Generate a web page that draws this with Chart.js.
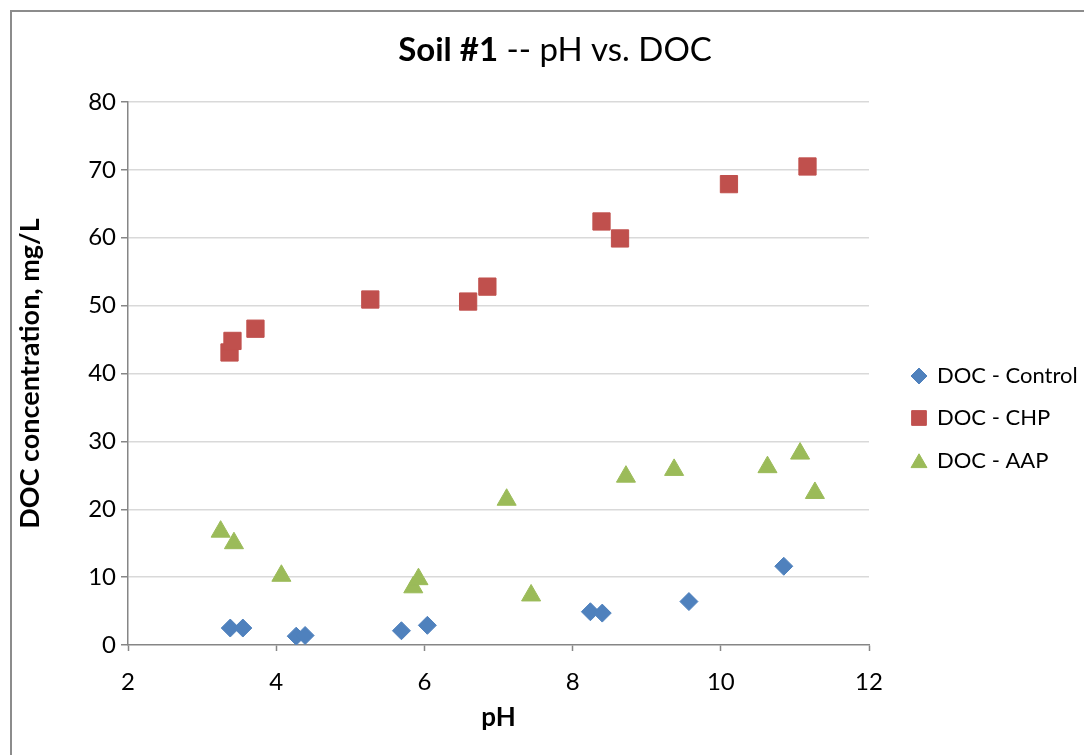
<!DOCTYPE html>
<html>
<head>
<meta charset="utf-8">
<script src="https://cdn.jsdelivr.net/npm/chart.js@4/dist/chart.umd.min.js"></script>
<style>
  html, body { margin: 0; padding: 0; background: #fff; overflow: hidden; }
  #wrap { position: relative; width: 1084px; height: 755px; }
  #frame { position: absolute; left: 10px; top: 10px; width: 1200px; height: 900px;
           border: 2px solid #8c8c8c; box-sizing: border-box; }
  canvas { position: absolute; left: 0; top: 0; }
</style>
</head>
<body>
<div id="wrap">
  <div id="frame"></div>
  <canvas id="chart" width="1084" height="755"></canvas>
</div>
<script>
// Soil #1: measured pH and dissolved organic carbon (mg/L) per treatment
const phControl  = [3.38, 3.55, 4.27, 4.39, 5.69, 6.04, 8.24, 8.40, 9.57, 10.85];
const docControl = [2.5, 2.5, 1.3, 1.4, 2.1, 2.9, 4.9, 4.7, 6.4, 11.6];

const phCHP  = [3.37, 3.41, 3.72, 5.27, 6.59, 6.85, 8.39, 8.64, 10.11, 11.17];
const docCHP = [43.1, 44.8, 46.6, 50.9, 50.6, 52.8, 62.4, 59.9, 67.9, 70.5];

const phAAP  = [3.25, 3.43, 4.07, 5.85, 5.92, 7.11, 7.44, 8.72, 9.37, 10.63, 11.07, 11.27];
const docAAP = [16.7, 15.0, 10.2, 8.5, 9.7, 21.4, 7.3, 24.8, 25.8, 26.2, 28.2, 22.4];

const seriesNames = ['DOC - Control', 'DOC - CHP', 'DOC - AAP'];
const titleBold = 'Soil #1';
const titleRest = ' -- pH vs. DOC';
const xTitle = 'pH';
const yTitle = 'DOC concentration, mg/L';

const FONT = 'Lato, "Open Sans", sans-serif';
const AXIS = '#868686';
const GRID = '#D9D9D9';

function pairs(xs, ys) { return xs.map((x, i) => ({ x: x, y: ys[i] })); }

const datasets = [
  { label: seriesNames[0], data: pairs(phControl, docControl), pointStyle: 'rectRot',
    pointRadius: 9, backgroundColor: '#4F81BD', borderColor: '#4F81BD', legendRadius: 8 },
  { label: seriesNames[1], data: pairs(phCHP, docCHP), pointStyle: 'rect',
    pointRadius: 12.2, backgroundColor: '#C0504D', borderColor: '#C0504D', legendRadius: 10.4 },
  { label: seriesNames[2], data: pairs(phAAP, docAAP), pointStyle: 'triangle',
    pointRadius: 11, backgroundColor: '#9BBB59', borderColor: '#9BBB59', legendRadius: 9.2 }
].map(d => Object.assign(d, { showLine: false, pointBorderWidth: 1, pointHoverRadius: d.pointRadius }));

// Title with a bold lead-in followed by regular text
const mixedTitle = {
  id: 'mixedTitle',
  afterDraw(chart) {
    const ctx = chart.ctx;
    ctx.save();
    ctx.fillStyle = '#000';
    ctx.textBaseline = 'middle';
    const boldFont = 'bold 33px ' + FONT;
    const normFont = '33px ' + FONT;
    ctx.font = boldFont;
    const w1 = ctx.measureText(titleBold).width;
    ctx.font = normFont;
    const w2 = ctx.measureText(titleRest).width;
    const cx = 555, cy = 50;
    const x0 = cx - (w1 + w2) / 2;
    ctx.textAlign = 'left';
    ctx.font = boldFont;
    ctx.fillText(titleBold, x0, cy);
    ctx.font = normFont;
    ctx.fillText(titleRest, x0 + w1, cy);
    ctx.restore();
  }
};

// Legend listed to the right of the plot area
const sideLegend = {
  id: 'sideLegend',
  afterDraw(chart) {
    const ctx = chart.ctx;
    const rows = [376, 418, 461];
    ctx.save();
    chart.data.datasets.forEach((ds, i) => {
      const y = rows[i];
      ctx.fillStyle = ds.backgroundColor;
      ctx.strokeStyle = ds.borderColor;
      ctx.lineWidth = 1;
      Chart.helpers.drawPoint(ctx, {
        pointStyle: ds.pointStyle, radius: ds.legendRadius, rotation: 0, borderWidth: 1
      }, 919, ds.pointStyle === 'triangle' ? y + 2 : y);
      ctx.fillStyle = '#000';
      ctx.font = '22px ' + FONT;
      ctx.textAlign = 'left';
      ctx.textBaseline = 'middle';
      ctx.fillText(ds.label, 937, y);
    });
    ctx.restore();
  }
};

new Chart(document.getElementById('chart'), {
  type: 'scatter',
  data: { datasets: datasets },
  plugins: [mixedTitle, sideLegend],
  options: {
    responsive: false,
    animation: false,
    layout: { padding: { left: 0, top: 102, right: 215, bottom: 0 } },
    plugins: { legend: { display: false }, title: { display: false }, tooltip: { enabled: false } },
    scales: {
      x: {
        type: 'linear', min: 2, max: 12,
        afterFit(scale) { scale.height = 110; },
        ticks: { stepSize: 2, color: '#000', font: { family: FONT, size: 24 }, padding: 17 },
        grid: { drawOnChartArea: false, drawTicks: true, tickLength: 6, tickColor: AXIS, tickWidth: 1.5 },
        border: { color: AXIS, width: 1.5 },
        title: { display: true, text: xTitle, color: '#000',
                 font: { family: FONT, size: 26, weight: 'bold' }, padding: { top: 0, bottom: 22 } }
      },
      y: {
        type: 'linear', min: 0, max: 80,
        afterFit(scale) { scale.width = 128; },
        ticks: { stepSize: 10, color: '#000', font: { family: FONT, size: 24 }, padding: 5 },
        grid: {
          color: ctx => (ctx.tick && ctx.tick.value === 0) ? 'rgba(0,0,0,0)' : GRID,
          lineWidth: 1.5, drawTicks: true, tickLength: 7, tickColor: AXIS, tickWidth: 1.5
        },
        border: { color: AXIS, width: 1.5 },
        title: { display: true, text: yTitle, color: '#000',
                 font: { family: FONT, size: 27, weight: 'bold' }, padding: { top: 14, bottom: 0 } }
      }
    }
  }
});
</script>
</body>
</html>
